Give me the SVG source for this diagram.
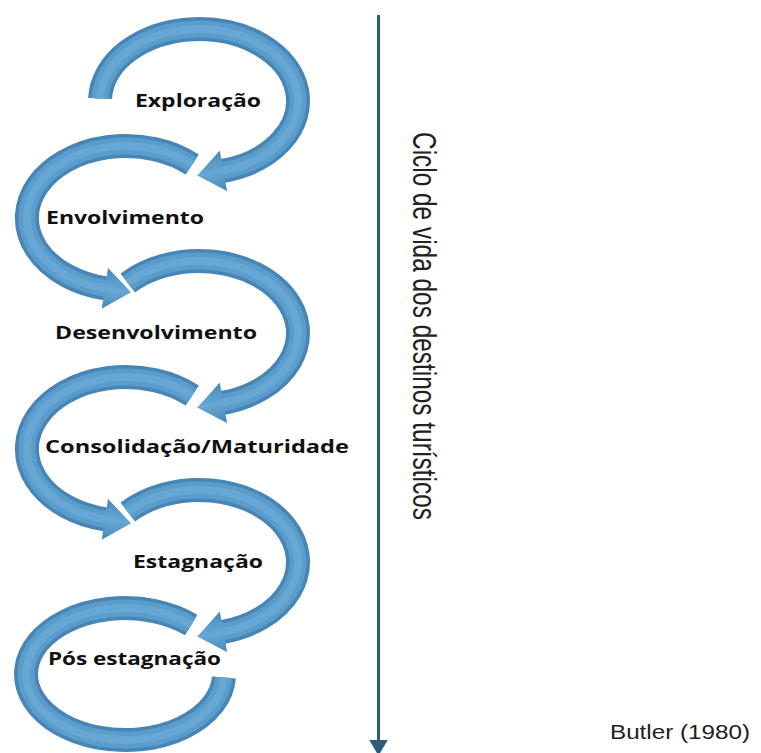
<svg xmlns="http://www.w3.org/2000/svg" width="761" height="753" viewBox="0 0 761 753">
  <defs>
    <linearGradient id="hg" x1="0" y1="0" x2="0" y2="1">
      <stop offset="0" stop-color="#4785b7"/>
      <stop offset="0.3" stop-color="#5a9cca"/>
      <stop offset="0.5" stop-color="#66a7d4"/>
      <stop offset="0.7" stop-color="#5a9cca"/>
      <stop offset="1" stop-color="#4785b7"/>
    </linearGradient>
    <marker id="head" markerUnits="userSpaceOnUse" orient="auto" refX="0.5" refY="0" markerWidth="40" markerHeight="50" viewBox="-2 -24 32 48" overflow="visible">
      <path d="M0,-20 L26,0 L0,20 Z" fill="url(#hg)"/>
      <path d="M0,-21.5 L27.5,0 L0,21.5" fill="none" stroke="#ffffff" stroke-width="2.5"/>
    </marker>
    <marker id="axhead" markerUnits="userSpaceOnUse" orient="auto" refX="0" refY="0" markerWidth="20" markerHeight="20" viewBox="0 -7 12 14" overflow="visible">
      <path d="M0,-6.5 L11,0 L0,6.5 Z" fill="#2e5d7c"/>
    </marker>
  </defs>
  <style>
    .b1 { fill: none; stroke: #4785b7; stroke-width: 24; }
    .b2 { fill: none; stroke: #5a9cca; stroke-width: 17; }
    .b3 { fill: none; stroke: #66a7d4; stroke-width: 8; }
    .lbl { font-family: "Open Sans", "Noto Sans", "DejaVu Sans", sans-serif; font-weight: 700; font-size: 17.5px; fill: #111111; }
    .axis { stroke: #2e5d7c; stroke-width: 3; fill: none; }
    .side { font-family: "Liberation Sans", Arial, sans-serif; fill: #222222; }
  </style>
  <rect width="761" height="753" fill="#ffffff"/>

  <g id="pos-estagnacao">
    <path class="b1" d="M191.2,625.0 A99,66 0 1 0 223.9,677.5"/>
    <path class="b2" d="M191.2,625.0 A99,66 0 1 0 223.9,677.5"/>
    <path class="b3" d="M191.2,625.0 A99,66 0 1 0 223.9,677.5"/>
    <text class="lbl" x="48" y="665" textLength="173" lengthAdjust="spacingAndGlyphs">Pós estagnação</text>
  </g>

  <g id="estagnacao">
    <path class="b1" d="M127.8,512.0 A99,72 0 1 1 222.9,631.9" marker-end="url(#head)"/>
    <path class="b2" d="M127.8,512.0 A99,72 0 1 1 222.9,631.9"/>
    <path class="b3" d="M127.8,512.0 A99,72 0 1 1 222.9,631.9"/>
    <text class="lbl" x="133" y="568" textLength="130" lengthAdjust="spacingAndGlyphs">Estagnação</text>
  </g>

  <g id="consolidacao">
    <path class="b1" d="M192.2,395.5 A99,72 0 1 0 105.4,519.4" marker-end="url(#head)"/>
    <path class="b2" d="M192.2,395.5 A99,72 0 1 0 105.4,519.4"/>
    <path class="b3" d="M192.2,395.5 A99,72 0 1 0 105.4,519.4"/>
    <text class="lbl" x="45" y="453" textLength="304" lengthAdjust="spacingAndGlyphs">Consolidação/Maturidade</text>
  </g>

  <g id="desenvolvimento">
    <path class="b1" d="M127.8,283.0 A99,72 0 1 1 222.9,402.9" marker-end="url(#head)"/>
    <path class="b2" d="M127.8,283.0 A99,72 0 1 1 222.9,402.9"/>
    <path class="b3" d="M127.8,283.0 A99,72 0 1 1 222.9,402.9"/>
    <text class="lbl" x="55" y="339" textLength="202" lengthAdjust="spacingAndGlyphs">Desenvolvimento</text>
  </g>

  <g id="envolvimento">
    <path class="b1" d="M192.2,164.5 A99,72 0 1 0 105.4,288.4" marker-end="url(#head)"/>
    <path class="b2" d="M192.2,164.5 A99,72 0 1 0 105.4,288.4"/>
    <path class="b3" d="M192.2,164.5 A99,72 0 1 0 105.4,288.4"/>
    <text class="lbl" x="46" y="224" textLength="158" lengthAdjust="spacingAndGlyphs">Envolvimento</text>
  </g>

  <g id="exploracao">
    <path class="b1" d="M100.1,98.5 A99,72 0 1 1 222.9,170.9" marker-end="url(#head)"/>
    <path class="b2" d="M100.1,98.5 A99,72 0 1 1 222.9,170.9"/>
    <path class="b3" d="M100.1,98.5 A99,72 0 1 1 222.9,170.9"/>
    <text class="lbl" x="135" y="107" textLength="126" lengthAdjust="spacingAndGlyphs">Exploração</text>
  </g>

  <g id="connectors">
    <path class="axis" d="M378.5,15 L378.5,740" marker-end="url(#axhead)"/>
  </g>

  <g id="titulo">
    <text class="side" font-size="34" transform="translate(413,132) rotate(90)" x="0" y="0" textLength="388" lengthAdjust="spacingAndGlyphs">Ciclo de vida dos destinos turísticos</text>
  </g>

  <g id="fonte">
    <text class="side" font-size="19.5" x="610" y="739" textLength="140" lengthAdjust="spacingAndGlyphs">Butler (1980)</text>
  </g>
</svg>
